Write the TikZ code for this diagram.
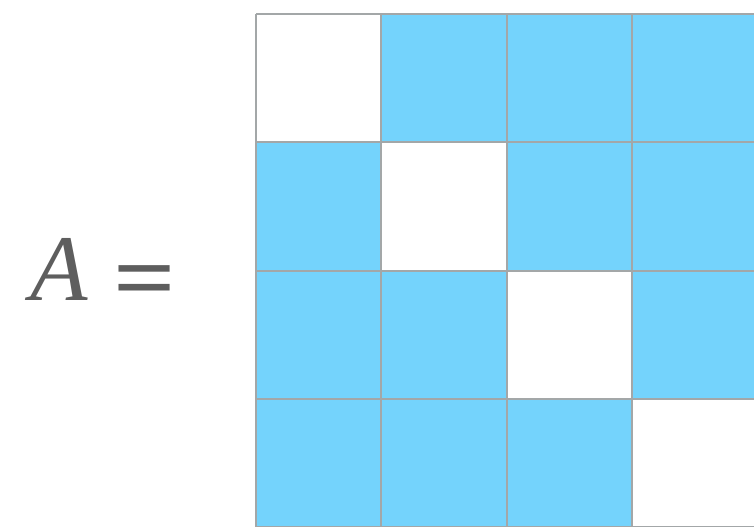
\documentclass[tikz,border=0pt]{standalone}
\usepackage{amsmath,amssymb}
\usepackage{fontspec}
\setmainfont{Liberation Serif}
\usepackage{tikz}
\usepackage{xcolor}
\usetikzlibrary{positioning,calc}
\definecolor{inkgray}{HTML}{5E5E5E}
\definecolor{gridgray}{HTML}{A3A7A8}
\definecolor{cellblue}{HTML}{74D3FC}

\begin{document}
\begin{tikzpicture}[x=0.5pt,y=-0.5pt]
      % page frame (pixel units, y down)
      \useasboundingbox (0,0) rectangle (754,526);
      \clip (0,0) rectangle (754,526);
      % left-hand side
      \node[font=\fontsize{47}{52}\selectfont\itshape\color{inkgray},anchor=base west,inner sep=0pt] (lhs) at (30,300) {A};
      \node[font=\fontsize{47}{52}\selectfont\bfseries\color{inkgray},anchor=base west,inner sep=0pt] (eq) at (113,309) {\scalebox{1.17}[1]{=}};
      % off-diagonal cells filled, diagonal left white
      \foreach \i in {0,...,3} {
        \foreach \j in {0,...,3} {
          \ifnum\i=\j
            \fill[white] ({256+125.3*\j},{14+128.3*\i}) rectangle ++(125.3,128.3);
          \else
            \fill[cellblue] ({256+125.3*\j},{14+128.3*\i}) rectangle ++(125.3,128.3);
          \fi
        }
      }
      % grid lines
      \foreach \j in {0,...,4} {\draw[gridgray,line width=0.9pt] ({256+125.3*\j},14) -- ({256+125.3*\j},540);}
      \foreach \i in {0,...,4} {\draw[gridgray,line width=0.9pt] (256,{14+128.3*\i}) -- (770,{14+128.3*\i});}
    \end{tikzpicture}
\end{document}
